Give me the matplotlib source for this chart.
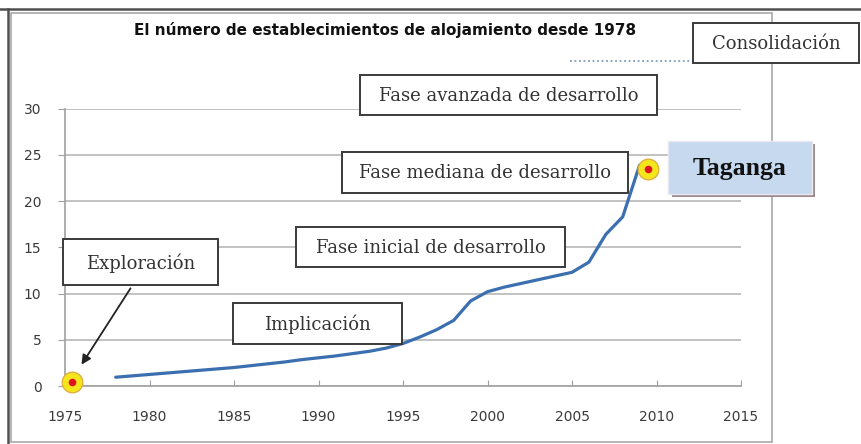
import numpy as np
import matplotlib
matplotlib.use('Agg')
from matplotlib import pyplot as plt
from matplotlib.patches import Rectangle
from matplotlib.lines import Line2D

# data
years = [1978, 1979, 1980, 1981, 1982, 1983, 1984, 1985, 1986, 1987, 1988,
         1989, 1990, 1991, 1992, 1993, 1994, 1995, 1996, 1997, 1998, 1999,
         2000, 2001, 2002, 2003, 2004, 2005, 2006, 2007, 2008, 2009]
establecimientos = [0.95, 1.1, 1.25, 1.4, 1.55, 1.7, 1.85, 2.0, 2.2, 2.4, 2.6,
                    2.85, 3.05, 3.25, 3.5, 3.75, 4.1, 4.6, 5.3, 6.1, 7.1, 9.2,
                    10.2, 10.7, 11.1, 11.5, 11.9, 12.3, 13.4, 16.4, 18.3, 23.9]
marker_years = [1975.4, 2009.5]
marker_vals = [0.45, 23.5]
xticks = [1975, 1980, 1985, 1990, 1995, 2000, 2005, 2010, 2015]
yticks = [0, 5, 10, 15, 20, 25, 30]
title = 'El número de establecimientos de alojamiento desde 1978'

W, H = 861, 444


def px(x, y):
    # pixel position (from top-left) to figure fraction
    return x / W, 1 - y / H


fig = plt.figure(figsize=(W / 100, H / 100), dpi=100)
fig.patch.set_facecolor('white')
ax = fig.add_axes([65 / W, 1 - 386 / H, (741 - 65) / W, (386 - 108.7) / H])

ax.plot(years, establecimientos, color='#3b6fb0', lw=2.3,
        solid_joinstyle='round', solid_capstyle='round', zorder=3)
ax.scatter(marker_years, marker_vals, s=220, color='#f5e51b',
           edgecolor='#e0b040', lw=1, zorder=4, clip_on=False)
ax.scatter(marker_years, marker_vals, s=30, marker='o', color='#e0141e',
           lw=0, zorder=5, clip_on=False)

ax.set_xlim(1975, 2015)
ax.set_ylim(0, 30)
ax.set_xticks(xticks)
ax.set_yticks(yticks)
ax.grid(axis='y', color='#b8b8b8', lw=1.2)
ax.set_axisbelow(True)
for s in ['top', 'right']:
    ax.spines[s].set_visible(False)
for s in ['left', 'bottom']:
    ax.spines[s].set_color('#a0a0a0')
    ax.spines[s].set_linewidth(1.2)
ax.tick_params(axis='y', length=5, color='#a0a0a0', pad=12,
               labelsize=10, labelcolor='#3a3a3a')
ax.tick_params(axis='x', direction='in', length=4, color='#a0a0a0', pad=17,
               labelsize=10, labelcolor='#3a3a3a')

# chart frame and outer border
fig.add_artist(Rectangle(px(11, 442), (772 - 11) / W, (442 - 13) / H,
                         transform=fig.transFigure, fill=False,
                         ec='#a8a8a8', lw=1.2))
fig.add_artist(Line2D([0, 1], [1 - 9 / H, 1 - 9 / H], transform=fig.transFigure,
                      color='#505050', lw=1.8))
fig.add_artist(Line2D([8 / W, 8 / W], [0, 1 - 9 / H], transform=fig.transFigure,
                      color='#505050', lw=1.8))

fig.text(*px(385, 30), title, ha='center', va='center', fontsize=11,
         fontweight='bold', color='#111111')

# dotted connector towards Consolidación
fig.add_artist(Line2D([570 / W, 693 / W], [1 - 61 / H, 1 - 61 / H],
                      transform=fig.transFigure, color='#7f9cc0', lw=1.3,
                      ls=(0, (1, 1.5))))

boxes = [
    ('Consolidación', (693, 23, 859, 63)),
    ('Fase avanzada de desarrollo', (360, 75, 657, 115)),
    ('Fase mediana de desarrollo', (342, 152, 628, 193)),
    ('Fase inicial de desarrollo', (296, 227, 565, 267)),
    ('Exploración', (63, 239, 218, 285)),
    ('Implicación', (233, 303, 402, 344)),
]
for label, (x0, y0, x1, y1) in boxes:
    fig.add_artist(Rectangle(px(x0, y1), (x1 - x0) / W, (y1 - y0) / H,
                             transform=fig.transFigure, fc='white',
                             ec='#3a3a3a', lw=1.4, zorder=6))
    fig.text(*px((x0 + x1) / 2, (y0 + y1) / 2 + 1), label, ha='center',
             va='center', family='DejaVu Serif', fontsize=13,
             color='#333333', zorder=7)

# Taganga label with shadow
fig.add_artist(Rectangle(px(672, 197), (815 - 672) / W, (197 - 144) / H,
                         transform=fig.transFigure, fc='#a08c8e', ec='none',
                         zorder=6))
fig.add_artist(Rectangle(px(668, 194), (812 - 668) / W, (194 - 141) / H,
                         transform=fig.transFigure, fc='#c6d9ef', ec='#e8e8f0',
                         lw=1, zorder=6))
fig.text(*px(740, 168), 'Taganga', ha='center', va='center',
         family='Liberation Serif', fontweight='bold', fontsize=18.5,
         color='#111111', zorder=7)

# arrow from Exploración to the first marker
ax.annotate('', xy=px(80, 367), xycoords='figure fraction',
            xytext=px(132, 286), textcoords='figure fraction',
            arrowprops=dict(arrowstyle='-|>', color='#222222', lw=1.3,
                            mutation_scale=14))

fig.savefig('out.png', dpi=100)
